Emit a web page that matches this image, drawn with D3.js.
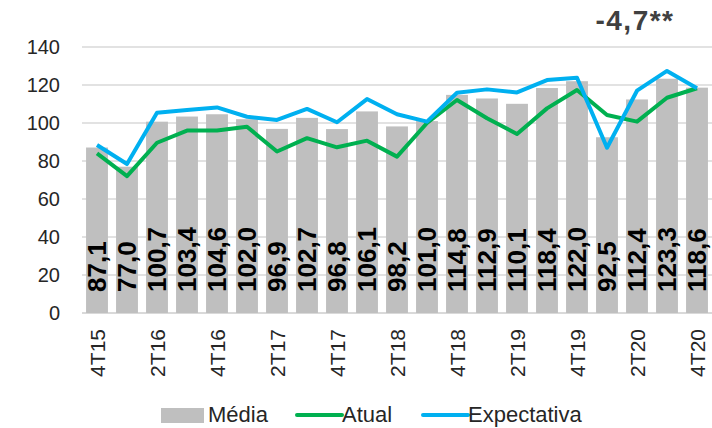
<!DOCTYPE html>
<html>
<head>
<meta charset="utf-8">
<script src="https://cdn.jsdelivr.net/npm/d3@7"></script>
<style>
  html, body { margin: 0; padding: 0; background: #fff; }
  svg { display: block; font-family: "Liberation Sans", Arial, sans-serif; }
</style>
</head>
<body>
<svg id="chart" width="712" height="428"></svg>
<script>
const categories = ["4T15","1T16","2T16","3T16","4T16","1T17","2T17","3T17","4T17","1T18","2T18","3T18","4T18","1T19","2T19","3T19","4T19","1T20","2T20","3T20","4T20"];
const tickLabels = ["4T15","2T16","4T16","2T17","4T17","2T18","4T18","2T19","4T19","2T20","4T20"];
const media = [87.1,77.0,100.7,103.4,104.6,102.0,96.9,102.7,96.8,106.1,98.2,101.0,114.8,112.9,110.1,118.4,122.0,92.5,112.4,123.3,118.6];
const atual = [84.0,72.0,89.6,96.0,96.0,98.0,85.0,92.0,87.2,90.7,82.3,100.0,112.1,102.5,94.2,107.7,117.4,104.2,100.7,113.3,118.3];
const expectativa = [88.4,78.4,105.4,106.8,108.2,103.3,101.6,107.4,100.4,112.6,104.6,100.7,115.9,117.7,116.1,122.6,123.8,87.0,117.0,127.4,118.3];
const yTicks = [0,20,40,60,80,100,120,140];
const seriesNames = ["Média","Atual","Expectativa"];
const annotation = "-4,7**";

const fmt = v => v.toFixed(1).replace(".", ",");

const svg = d3.select("#chart");
const x = d3.scaleBand().domain(categories).range([82, 712]).paddingInner(0.27).paddingOuter(0.135);
const y = d3.scaleLinear().domain([0, 140]).range([313, 47]);

// gridlines
svg.append("g").selectAll("line").data(yTicks).join("line")
  .attr("x1", 82).attr("x2", 712)
  .attr("y1", d => y(d)).attr("y2", d => y(d))
  .attr("stroke", "#D9D9D9").attr("stroke-width", d => d === 0 ? 2 : 1.5);

// y tick labels
svg.append("g").selectAll("text").data(yTicks).join("text")
  .attr("x", 60).attr("y", d => y(d)).attr("dy", "0.36em")
  .attr("text-anchor", "end").attr("font-size", 20).attr("fill", "#262626")
  .text(d => d);

// bars
svg.append("g").selectAll("rect").data(media).join("rect")
  .attr("x", (d, i) => x(categories[i]))
  .attr("width", x.bandwidth())
  .attr("y", d => y(d))
  .attr("height", d => y(0) - y(d))
  .attr("fill", "#BFBFBF");

// bar labels
svg.append("g").selectAll("text").data(media).join("text")
  .attr("transform", (d, i) => `translate(${x(categories[i]) + x.bandwidth() / 2},${y(0) - 21}) rotate(-90)`)
  .attr("dy", "0.36em")
  .attr("text-anchor", "start").attr("font-size", 26).attr("font-weight", "bold").attr("fill", "#000")
  .text(d => fmt(d));

// lines
const cx = (d, i) => x(categories[i]) + x.bandwidth() / 2;
const line = d3.line().x(cx).y(d => y(d));
svg.append("path").datum(atual).attr("d", line)
  .attr("fill", "none").attr("stroke", "#00B050").attr("stroke-width", 4).attr("stroke-linejoin", "round");
svg.append("path").datum(expectativa).attr("d", line)
  .attr("fill", "none").attr("stroke", "#00B0F0").attr("stroke-width", 4).attr("stroke-linejoin", "round");

// x axis labels
svg.append("g").selectAll("text").data(tickLabels).join("text")
  .attr("transform", d => `translate(${x(d) + x.bandwidth() / 2},329) rotate(-90)`)
  .attr("dy", "0.36em")
  .attr("text-anchor", "end").attr("font-size", 21).attr("fill", "#262626")
  .text(d => d);

// annotation
svg.append("text").attr("x", 635).attr("y", 30)
  .attr("text-anchor", "middle").attr("font-size", 28).attr("font-weight", "bold")
  .attr("letter-spacing", 1.5).attr("fill", "#404040")
  .text(annotation);

// legend
const lg = svg.append("g").attr("font-size", 22).attr("fill", "#262626");
lg.append("rect").attr("x", 161).attr("y", 408).attr("width", 43).attr("height", 15).attr("fill", "#BFBFBF");
lg.append("text").attr("x", 208).attr("y", 422).text(seriesNames[0]);
lg.append("line").attr("x1", 297).attr("x2", 342).attr("y1", 415).attr("y2", 415)
  .attr("stroke", "#00B050").attr("stroke-width", 4).attr("stroke-linecap", "round");
lg.append("text").attr("x", 342).attr("y", 422).text(seriesNames[1]);
lg.append("line").attr("x1", 423).attr("x2", 468).attr("y1", 415).attr("y2", 415)
  .attr("stroke", "#00B0F0").attr("stroke-width", 4).attr("stroke-linecap", "round");
lg.append("text").attr("x", 468).attr("y", 422).text(seriesNames[2]);
</script>
</body>
</html>
